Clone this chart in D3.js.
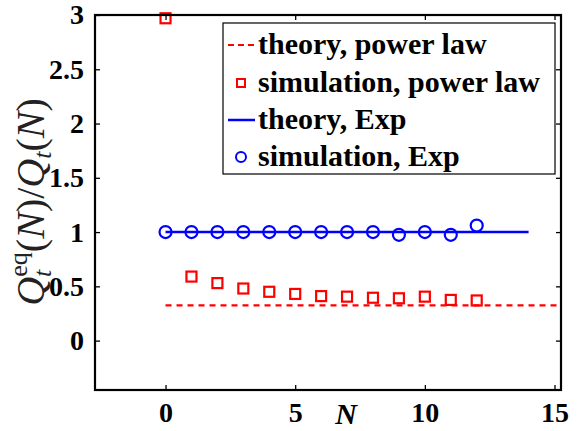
<!DOCTYPE html>
<html>
<head>
<meta charset="utf-8">
<style>
  body { margin: 0; background: #fff; }
</style>
</head>
<body>
<svg id="chart" width="582" height="431"></svg>
<script src="https://d3js.org/d3.v7.min.js"></script>
<script>

// values
var N = [0, 1, 2, 3, 4, 5, 6, 7, 8, 9, 10, 11, 12];
var simPower = [2.97, 0.59, 0.53, 0.48, 0.45, 0.43, 0.41, 0.405, 0.395, 0.39, 0.405, 0.375, 0.37];
var simExp = [1.0, 1.0, 1.0, 1.0, 1.0, 1.0, 1.0, 1.0, 1.0, 0.975, 1.0, 0.975, 1.06];
var theoryPowerN = [0, 15.25];
var theoryPower = [0.325, 0.325];
var theoryExpN = [0, 14];
var theoryExp = [1, 1];
var xTicks = [0, 5, 10, 15];
var yTicks = [0, 0.5, 1, 1.5, 2, 2.5, 3];
var legendLabels = ["theory, power law", "simulation, power law", "theory, Exp", "simulation, Exp"];

var serif = "'Liberation Serif', 'Times New Roman', serif";

var svg = d3.select("#chart");
var mLeft = 95, mRight = 561, mTop = 15, mBottom = 390;

var x = d3.scaleLinear().domain([-2.72, 15.25]).range([mLeft, mRight]);
var y = d3.scaleLinear().domain([-0.455, 3]).range([mBottom, mTop]);

var red = "#ff0000", blue = "#0000ff";

// lines
var line = d3.line()
    .x(function (d) { return x(d[0]); })
    .y(function (d) { return y(d[1]); });

svg.append("path")
    .attr("d", line(d3.zip(theoryPowerN, theoryPower)))
    .attr("fill", "none").attr("stroke", red)
    .attr("stroke-width", 2.2).attr("stroke-dasharray", "6,5");

svg.append("path")
    .attr("d", line(d3.zip(theoryExpN, theoryExp)))
    .attr("fill", "none").attr("stroke", blue)
    .attr("stroke-width", 2.5);

// markers
svg.selectAll("rect.sp")
    .data(d3.zip(N, simPower))
    .enter().append("rect")
    .attr("class", "sp")
    .attr("x", function (d) { return x(d[0]) - 5; })
    .attr("y", function (d) { return y(d[1]) - 5; })
    .attr("width", 10).attr("height", 10)
    .attr("fill", "none").attr("stroke", red).attr("stroke-width", 2.2);

svg.selectAll("circle.se")
    .data(d3.zip(N, simExp))
    .enter().append("circle")
    .attr("class", "se")
    .attr("cx", function (d) { return x(d[0]); })
    .attr("cy", function (d) { return y(d[1]); })
    .attr("r", 6)
    .attr("fill", "none").attr("stroke", blue).attr("stroke-width", 2.2);

// axes, matlab style box with inward ticks
function styleAxis(g) {
    g.select(".domain").remove();
    g.selectAll(".tick line").attr("stroke", "#000").attr("stroke-width", 1.3);
    g.selectAll("text")
        .style("font-family", serif)
        .style("font-weight", "bold")
        .style("font-size", "28px")
        .attr("fill", "#000");
}

svg.append("g").attr("transform", "translate(0," + mBottom + ")")
    .call(d3.axisBottom(x).tickValues(xTicks).tickSize(-5).tickPadding(12).tickFormat(d3.format("d")))
    .call(styleAxis);
svg.append("g").attr("transform", "translate(0," + mTop + ")")
    .call(d3.axisTop(x).tickValues(xTicks).tickSize(-5).tickFormat(""))
    .call(styleAxis);
svg.append("g").attr("transform", "translate(" + mLeft + ",0)")
    .call(d3.axisLeft(y).tickValues(yTicks).tickSize(-5).tickPadding(11).tickFormat(function (d) { return d; }))
    .call(styleAxis);
svg.append("g").attr("transform", "translate(" + mRight + ",0)")
    .call(d3.axisRight(y).tickValues(yTicks).tickSize(-5).tickFormat(""))
    .call(styleAxis);

svg.append("rect")
    .attr("x", mLeft).attr("y", mTop)
    .attr("width", mRight - mLeft).attr("height", mBottom - mTop)
    .attr("fill", "none").attr("stroke", "#000").attr("stroke-width", 2.2);

// legend
var lg = svg.append("g");
lg.append("rect")
    .attr("x", 223).attr("y", 23).attr("width", 332).attr("height", 151)
    .attr("fill", "#fff").attr("stroke", "#000").attr("stroke-width", 1.2);

var rowY = [45, 83, 120, 157];
lg.selectAll("text")
    .data(legendLabels)
    .enter().append("text")
    .attr("x", 258)
    .attr("y", function (d, i) { return rowY[i] + 9; })
    .style("font-family", serif)
    .style("font-weight", "bold")
    .style("font-size", "30px")
    .text(function (d) { return d; });

lg.append("line").attr("x1", 228).attr("x2", 255).attr("y1", rowY[0]).attr("y2", rowY[0])
    .attr("stroke", red).attr("stroke-width", 2).attr("stroke-dasharray", "6,4");
lg.append("rect").attr("x", 237).attr("y", rowY[1] - 4).attr("width", 8).attr("height", 8)
    .attr("fill", "none").attr("stroke", red).attr("stroke-width", 2);
lg.append("line").attr("x1", 228).attr("x2", 255).attr("y1", rowY[2]).attr("y2", rowY[2])
    .attr("stroke", blue).attr("stroke-width", 2.5);
lg.append("circle").attr("cx", 241).attr("cy", rowY[3]).attr("r", 5)
    .attr("fill", "none").attr("stroke", blue).attr("stroke-width", 2);

// x label
svg.append("text")
    .attr("x", 346).attr("y", 424)
    .attr("text-anchor", "middle")
    .style("font-family", serif)
    .style("font-weight", "bold").style("font-style", "italic")
    .style("font-size", "30px")
    .text("N");

// y label: Q_t^eq(N)/Q_t(N)
var yl = svg.append("text")
    .attr("transform", "translate(44,202) rotate(-90)")
    .attr("text-anchor", "middle")
    .style("font-family", serif)
    .style("font-size", "40px")
    .attr("fill", "#222");
yl.append("tspan").style("font-style", "italic").text("Q");
yl.append("tspan").style("font-size", "26px").style("font-style", "italic").attr("dy", 7).text("t");
yl.append("tspan").style("font-size", "26px").attr("dx", -7).attr("dy", -24).text("eq");
yl.append("tspan").attr("dy", 17).text("(");
yl.append("tspan").style("font-style", "italic").text("N");
yl.append("tspan").text(")/");
yl.append("tspan").style("font-style", "italic").text("Q");
yl.append("tspan").style("font-size", "26px").style("font-style", "italic").attr("dy", 7).text("t");
yl.append("tspan").attr("dy", -7).text("(");
yl.append("tspan").style("font-style", "italic").text("N");
yl.append("tspan").text(")");

</script>
</body>
</html>
